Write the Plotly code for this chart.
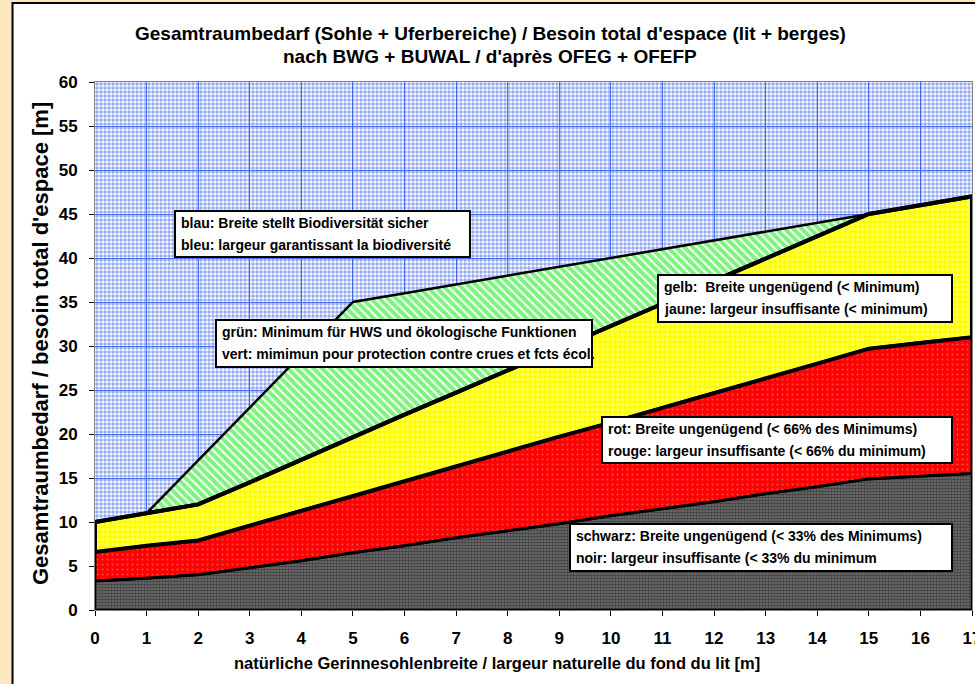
import plotly.graph_objects as go

# ---------------- data ----------------
sohlenbreite = list(range(0, 18))                       # natural bed width [m]
schwarz_top = [3.3, 3.6, 4.0, 4.8, 5.6, 6.5, 7.3, 8.2, 9.0, 9.8,
               10.7, 11.5, 12.3, 13.2, 14.0, 14.9, 15.2, 15.5]   # < 33 % of minimum
rot_top = [6.6, 7.3, 7.9, 9.6, 11.3, 12.9, 14.6, 16.3, 18.0, 19.7,
           21.3, 23.0, 24.7, 26.3, 28.0, 29.7, 30.4, 31.0]       # < 66 % of minimum
gelb_top = [10, 11, 12, 14.5, 17.1, 19.6, 22.2, 24.7, 27.2, 29.8,
            32.3, 34.8, 37.4, 39.9, 42.5, 45, 46, 47]            # minimum
gruen_top = [10, 11, 17, 23, 29, 35, 36, 37, 38, 39,
             40, 41, 42, 43, 44, 45, 46, 47]                     # biodiversity
Y_MAX = 60
x_ticks = list(range(0, 18))
y_ticks = list(range(0, 61, 5))

title_lines = ["Gesamtraumbedarf (Sohle + Uferbereiche) / Besoin total d'espace (lit + berges)",
               "nach BWG + BUWAL / d'après OFEG + OFEFP"]
x_title = "natürliche Gerinnesohlenbreite / largeur naturelle du fond du lit [m]"
y_title = "Gesamtraumbedarf / besoin total d'espace [m]"

box_texts = {
    "blau": ["blau: Breite stellt Biodiversität sicher",
             "bleu: largeur garantissant la biodiversité"],
    "gruen": ["grün: Minimum für HWS und ökologische Funktionen",
              "vert: mimimun pour protection contre crues et fcts écol."],
    "gelb": ["gelb:  Breite ungenügend (< Minimum)",
             "jaune: largeur insuffisante (< minimum)"],
    "rot": ["rot: Breite ungenügend (< 66% des Minimums)",
            "rouge: largeur insuffisante (< 66% du minimum)"],
    "schwarz": ["schwarz: Breite ungenügend (< 33% des Minimums)",
                "noir: largeur insuffisante (< 33% du minimum"],
}

# ---------------- layout geometry (pixels) ----------------
W, H = 975, 684
ML, MR, MT, MB = 95, 3, 82, 74
PW, PH = W - ML - MR, H - MT - MB


def px(xp):
    return (xp - ML) / PW


def py(yp):
    return (H - MB - yp) / PH


FONT = "Liberation Sans, Arial, sans-serif"

fig = go.Figure()

zeros = [0] * len(sohlenbreite)
top = [Y_MAX] * len(sohlenbreite)


def band(lower, upper):
    xs = sohlenbreite + sohlenbreite[::-1]
    ys = list(upper) + list(lower)[::-1]
    return xs, ys


# fills
fills = [
    (gruen_top, top, dict(shape=".", fgcolor="#2F58E8", bgcolor="rgba(0,0,0,0)", size=4, solidity=0.62)),
    (zeros, schwarz_top, dict(shape=".", fgcolor="#0c0c0c", bgcolor="#747474", size=3, solidity=0.6)),
    (schwarz_top, rot_top, dict(shape=".", fgcolor="#FFA0A0", bgcolor="#FF0000", size=5, solidity=0.12)),
    (rot_top, gelb_top, dict(shape=".", fgcolor="#FFFFC0", bgcolor="#FFFF00", size=5, solidity=0.35)),
    (gelb_top, gruen_top, dict(shape="\\", fgcolor="#00E800", bgcolor="#FFFFFF", size=6, solidity=0.68)),
]
for lower, upper, pat in fills:
    xs, ys = band(lower, upper)
    fig.add_trace(go.Scatter(x=xs, y=ys, mode="lines", fill="toself",
                             fillcolor=pat["bgcolor"], fillpattern=pat,
                             line=dict(width=0, color="rgba(0,0,0,0)"),
                             hoverinfo="skip", showlegend=False))

# outlines
outlines = [
    (zeros, schwarz_top, 2.5),
    (schwarz_top, rot_top, 3),
    (rot_top, gelb_top, 4),
    (gelb_top, gruen_top, 2.5),
]
for lower, upper, w in outlines:
    xs, ys = band(lower, upper)
    xs = xs + [xs[0]]
    ys = ys + [ys[0]]
    fig.add_trace(go.Scatter(x=xs, y=ys, mode="lines", cliponaxis=False,
                             line=dict(width=w, color="black"),
                             hoverinfo="skip", showlegend=False))

# redraw the thick minimum line on top
fig.add_trace(go.Scatter(x=sohlenbreite, y=gelb_top, mode="lines", cliponaxis=False,
                         line=dict(width=4, color="black"),
                         hoverinfo="skip", showlegend=False))

shapes = []
# white chart area with black frame (left and top visible)
shapes.append(dict(type="rect", xref="paper", yref="paper",
                   x0=px(12.5), x1=px(W + 20), y0=py(H + 20), y1=py(3),
                   line=dict(color="black", width=2), fillcolor="white", layer="below"))

annotations = []
boxes = [
    ("blau", 175, 470, 211, 257),
    ("gruen", 216, 592, 320, 367),
    ("gelb", 658, 952, 275, 322),
    ("rot", 602, 952, 417, 463),
    ("schwarz", 570, 952, 524, 571),
]
for key, x0, x1, y0, y1 in boxes:
    shapes.append(dict(type="rect", xref="paper", yref="paper",
                       x0=px(x0), x1=px(x1), y0=py(y1), y1=py(y0),
                       line=dict(color="black", width=2), fillcolor="white", layer="above"))
    for i, line in enumerate(box_texts[key]):
        annotations.append(dict(xref="paper", yref="paper", x=px(x0 + 4),
                                y=py(y0 + 12 + i * 21.5), xanchor="left", yanchor="middle",
                                text=line, showarrow=False,
                                font=dict(family=FONT, size=14, color="black", weight="bold")))

# titles
for i, line in enumerate(title_lines):
    annotations.append(dict(xref="paper", yref="paper", x=px(490), y=py(33 + i * 24),
                            xanchor="center", yanchor="middle", text=line, showarrow=False,
                            font=dict(family=FONT, size=19, color="black", weight="bold")))
annotations.append(dict(xref="paper", yref="paper", x=px(497), y=py(663),
                        xanchor="center", yanchor="middle", text=x_title, showarrow=False,
                        font=dict(family=FONT, size=16.5, color="black", weight="bold")))
annotations.append(dict(xref="paper", yref="paper", x=px(40), y=py(344),
                        xanchor="center", yanchor="middle", text=y_title, showarrow=False,
                        textangle=-90,
                        font=dict(family=FONT, size=22, color="black", weight="bold")))

axis_common = dict(showline=True, linecolor="#808080", linewidth=1, mirror=True,
                   showgrid=True, gridcolor="#4C72F5", gridwidth=1, zeroline=False,
                   ticks="outside", ticklen=5, tickcolor="black", tickwidth=1,
                   automargin=False, ticklabeloverflow="allow",
                   tickfont=dict(family=FONT, size=17, color="black", weight="bold"))

fig.update_layout(
    width=W, height=H,
    margin=dict(l=ML, r=MR, t=MT, b=MB, autoexpand=False),
    paper_bgcolor="#FDE8BE",
    plot_bgcolor="#D2DCFA",
    showlegend=False,
    shapes=shapes,
    annotations=annotations,
    xaxis=dict(range=[0, 17], tickvals=x_ticks, ticklabelstandoff=8, **axis_common),
    yaxis=dict(range=[0, Y_MAX], tickvals=y_ticks, ticklabelstandoff=8, **axis_common),
)

fig.write_html("out.html", config={"displayModeBar": False},
               post_script="document.body.style.margin='0';")
